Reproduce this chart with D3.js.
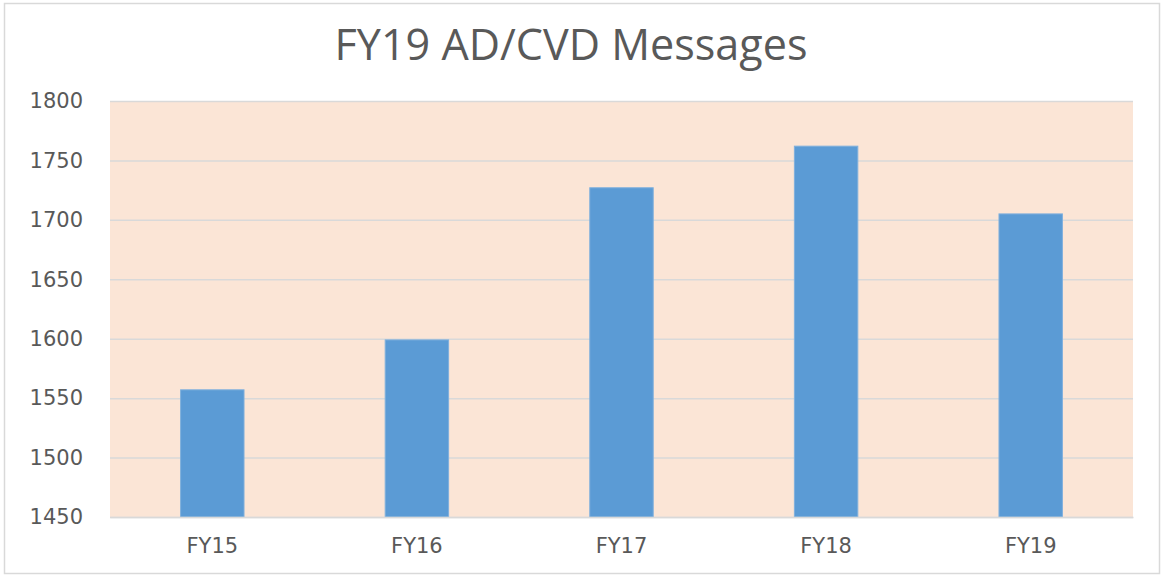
<!DOCTYPE html>
<html><head><meta charset="utf-8">
<script src="https://cdn.jsdelivr.net/npm/d3@7"></script>
<style>body{margin:0;background:#fff;}svg{display:block;}</style>
</head><body>
<script>
const categories = ["FY15","FY16","FY17","FY18","FY19"];
const values = [1557, 1599, 1727, 1762, 1705];
const yTicks = [1450,1500,1550,1600,1650,1700,1750,1800];
const title = "FY19 AD/CVD Messages";

const W = 1163, H = 575;
const m = {left:110, right:30, top:101, bottom:58};
const svg = d3.select("body").append("svg").attr("width",W).attr("height",H);

svg.append("rect").attr("x",4.5).attr("y",3.5).attr("width",W-8).attr("height",H-5)
  .attr("fill","#fff").attr("stroke","#d9d9d9").attr("stroke-width",1.5);

const x = d3.scaleBand().domain(categories).range([m.left, W-m.right]).paddingInner(0.69).paddingOuter(0.345);
const y = d3.scaleLinear().domain([1450,1800]).range([H-m.bottom, m.top]);

svg.append("rect").attr("x",m.left).attr("y",m.top).attr("width",W-m.right-m.left).attr("height",H-m.bottom-m.top)
  .attr("fill","#fbe5d6");

const yAxis = d3.axisLeft(y).tickValues(yTicks).tickSize(-(W-m.right-m.left)).tickFormat(d3.format("d")).tickPadding(27);
const gy = svg.append("g").attr("transform",`translate(${m.left},0)`).call(yAxis);
gy.select(".domain").remove();
gy.selectAll("line").attr("stroke","#d9d9d9").attr("stroke-width",1.5);
gy.selectAll("text").attr("fill","#595959").attr("font-family","DejaVu Sans, Verdana, sans-serif").attr("font-size",21);

svg.selectAll("rect.bar").data(values).enter().append("rect").attr("class","bar")
  .attr("x",(d,i)=>x(categories[i])).attr("width",x.bandwidth())
  .attr("y",d=>y(d)).attr("height",d=>y(1450)-y(d))
  .attr("fill","#5b9bd5").attr("stroke","#7fb0dd").attr("stroke-width",1);

const xAxis = d3.axisBottom(x).tickSize(0).tickPadding(21);
const gx = svg.append("g").attr("transform",`translate(0,${H-m.bottom})`).call(xAxis);
gx.select(".domain").attr("stroke","#d9d9d9").attr("stroke-width",1.5);
gx.selectAll("text").attr("fill","#595959").attr("font-family","DejaVu Sans, Verdana, sans-serif").attr("font-size",21);

const t = svg.append("text").attr("x",571).attr("y",60).attr("text-anchor","middle")
  .attr("fill","#595959").attr("font-family","'Liberation Sans Narrow', 'Open Sans', sans-serif").attr("font-size",36).text(title);
const tw = t.node().getComputedTextLength();
t.attr("font-size", 36*473/tw);
</script>
</body></html>
